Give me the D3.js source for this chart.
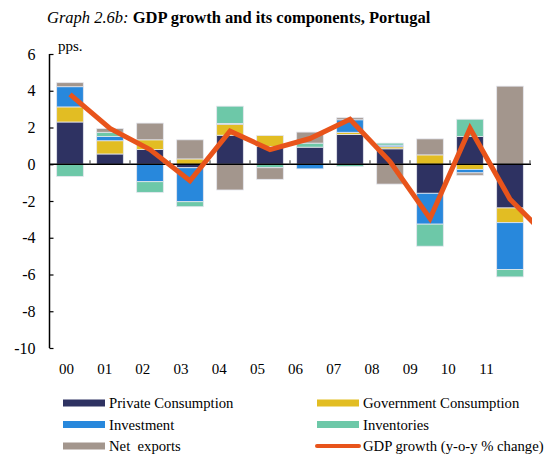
<!DOCTYPE html>
<html lang="en">
  <head>
    <meta charset="UTF-8" />
    <title>GDP growth and its components, Portugal</title>
    <script src="https://d3js.org/d3.v7.min.js"></script>
    <style>
      body { margin: 0; background: #fff; }
      text { font-family: "Liberation Serif", "Times New Roman", serif; fill: #000; }
    </style>
  </head>
  <body>
    <svg width="548" height="456"></svg>

    <script>
      // data
      const years = ["00", "01", "02", "03", "04", "05", "06", "07", "08", "09", "10", "11"];
      const privateCons = [2.3, 0.56, 0.8, -0.19, 1.58, 0.96, 0.93, 1.62, 0.84, -1.58, 1.51, -2.38];
      const govCons = [0.82, 0.72, 0.53, 0.29, 0.6, 0.6, 0.0, 0.12, 0.11, 0.51, -0.28, -0.8];
      const investment = [1.1, 0.23, -0.95, -1.85, 0.04, 0.0, -0.25, 0.68, 0.09, -1.68, -0.19, -2.55];
      const inventories = [-0.66, 0.23, -0.58, -0.27, 0.94, -0.19, 0.22, -0.12, 0.11, -1.2, 0.94, -0.4];
      const netExports = [0.22, 0.2, 0.91, 1.04, -1.4, -0.63, 0.6, 0.11, -1.08, 0.87, -0.13, 4.25];
      // GDP line runs on towards 2012 and is cut at the plot edge
      const gdpGrowth = [3.8, 1.95, 0.8, -0.9, 1.8, 0.8, 1.4, 2.45, 0.15, -2.95, 1.95, -1.9, -4.1];
      const yTicks = [6, 4, 2, 0, -2, -4, -6, -8, -10];

      const series = [
        { key: "pc", name: "Private Consumption", color: "#2e3262", values: privateCons },
        { key: "gov", name: "Government Consumption", color: "#e2bd23", values: govCons },
        { key: "inv", name: "Investment", color: "#2888dc", values: investment },
        { key: "invt", name: "Inventories", color: "#6dc8a8", values: inventories },
        { key: "nx", name: "Net\u00a0 exports", color: "#a3968d", values: netExports }
      ];
      const lineColor = "#e8541b";

      const svg = d3.select("svg");

      const table = years.map((y, i) => {
        const row = { year: y };
        series.forEach((s) => (row[s.key] = s.values[i]));
        return row;
      });

      const x = d3
        .scaleBand()
        .domain(years)
        .range([50, 530])
        .paddingInner(1 / 3)
        .paddingOuter(1 / 6);
      const y = d3.scaleLinear().domain([-10, 6]).range([348, 54]);

      // the year labels in the original drift left of the bars
      const xLabel = d3.scalePoint().domain(years).range([66.5, 486.5]);

      const xLine = d3
        .scaleLinear()
        .domain([0, years.length - 1])
        .range([x(years[0]) + x.bandwidth() / 2, x(years[years.length - 1]) + x.bandwidth() / 2]);

      // title
      const title = svg.append("text").attr("x", 47).attr("y", 23).style("font-size", "16.5px");
      title.append("tspan").style("font-style", "italic").text("Graph 2.6b: ");
      title.append("tspan").style("font-weight", "bold").text("GDP growth and its components, Portugal");

      svg.append("text").attr("x", 58).attr("y", 51).style("font-size", "15px").text("pps.");

      // stacked bars
      const stack = d3
        .stack()
        .keys(series.map((s) => s.key))
        .offset(d3.stackOffsetDiverging);
      const layers = stack(table);

      svg
        .append("g")
        .selectAll("g")
        .data(layers)
        .join("g")
        .attr("fill", (d, i) => series[i].color)
        .selectAll("rect")
        .data((d) => d)
        .join("rect")
        .attr("x", (d) => x(d.data.year))
        .attr("width", x.bandwidth())
        .attr("y", (d) => y(Math.max(d[0], d[1])))
        .attr("height", (d) => Math.abs(y(d[0]) - y(d[1])))
        .attr("stroke", "#e4e6ee")
        .attr("stroke-width", 0.8);

      // zero line with small ticks between years
      svg
        .append("line")
        .attr("x1", 49)
        .attr("x2", 531)
        .attr("y1", y(0))
        .attr("y2", y(0))
        .attr("stroke", "#000")
        .attr("stroke-width", 1.5);

      svg
        .append("g")
        .selectAll("line")
        .data(years)
        .join("line")
        .attr("x1", (d) => x(d) + x.bandwidth() + x.step() * (1 / 6))
        .attr("x2", (d) => x(d) + x.bandwidth() + x.step() * (1 / 6))
        .attr("y1", y(0))
        .attr("y2", y(0) - 4)
        .attr("stroke", "#555")
        .attr("stroke-width", 1.2);

      // y axis
      const yAxis = d3
        .axisLeft(y)
        .tickValues(yTicks)
        .tickSize(-4)
        .tickPadding(14)
        .tickFormat((d) => String(d));
      const gy = svg
        .append("g")
        .attr("transform", "translate(49.5,0)")
        .call(yAxis)
        .attr("font-family", null)
        .attr("font-size", null);
      gy.select(".domain").attr("stroke-width", 1.5).attr("d", `M0,${y(6)}V${y(-10)}`);
      gy.selectAll(".tick line").attr("stroke-width", 1.2);
      gy.selectAll(".tick text").style("font-size", "16px");

      // year labels
      svg
        .append("g")
        .selectAll("text")
        .data(years)
        .join("text")
        .attr("x", (d) => xLabel(d))
        .attr("y", 374)
        .attr("text-anchor", "middle")
        .style("font-size", "15px")
        .text((d) => d);

      // GDP line
      svg
        .append("clipPath")
        .attr("id", "plot-clip")
        .append("rect")
        .attr("x", 40)
        .attr("y", 40)
        .attr("width", 492)
        .attr("height", 320);

      const line = d3
        .line()
        .x((d, i) => xLine(i))
        .y((d) => y(d));

      svg
        .append("path")
        .datum(gdpGrowth)
        .attr("clip-path", "url(#plot-clip)")
        .attr("fill", "none")
        .attr("stroke", lineColor)
        .attr("stroke-width", 5)
        .attr("stroke-linejoin", "miter")
        .attr("d", line);

      // legend
      const legendItems = series
        .map((s) => ({ name: s.name, color: s.color, type: "bar" }))
        .concat([{ name: "GDP growth (y-o-y % change)", color: lineColor, type: "line" }]);

      const legend = svg
        .append("g")
        .selectAll("g")
        .data(legendItems)
        .join("g")
        .attr("transform", (d, i) => `translate(${i % 2 === 0 ? 63 : 317},${403 + Math.floor(i / 2) * 21.5})`);

      legend
        .filter((d) => d.type === "bar")
        .append("rect")
        .attr("x", 0)
        .attr("y", -3.5)
        .attr("width", 42)
        .attr("height", 7)
        .attr("fill", (d) => d.color);

      legend
        .filter((d) => d.type === "line")
        .append("line")
        .attr("x1", 0)
        .attr("x2", 42)
        .attr("stroke", (d) => d.color)
        .attr("stroke-width", 4)
        .attr("stroke-linecap", "round");

      legend
        .append("text")
        .attr("x", 46)
        .attr("dy", "0.35em")
        .style("font-size", "14.7px")
        .text((d) => d.name);
    </script>
  </body>
</html>
